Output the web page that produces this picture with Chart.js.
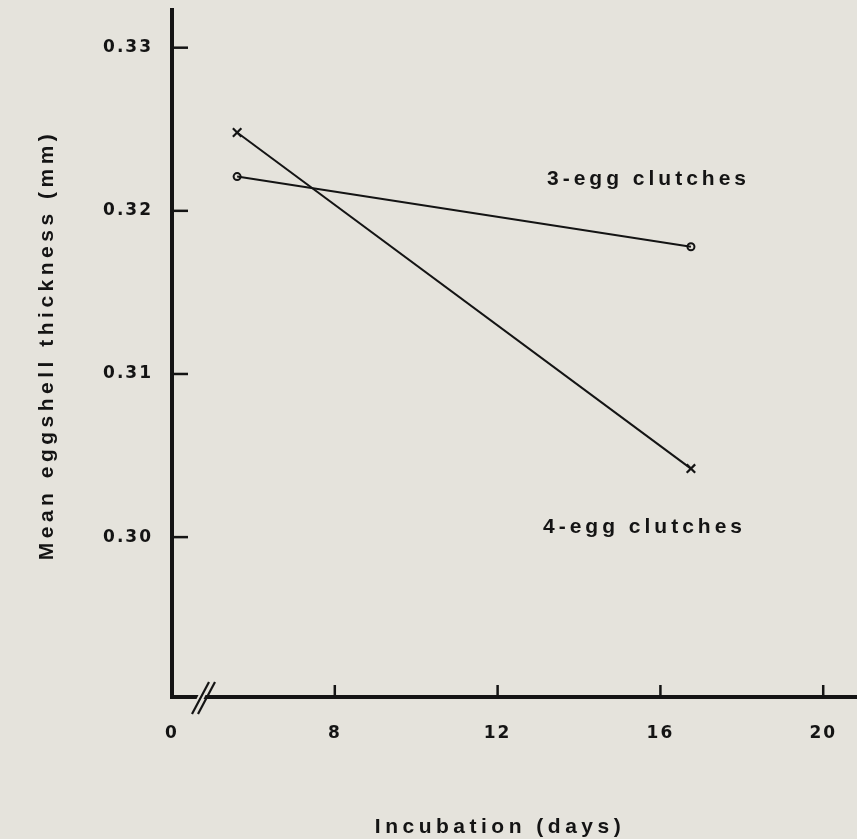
<!DOCTYPE html>
<html><head><meta charset="utf-8">
<script src="https://cdn.jsdelivr.net/npm/chart.js@4/dist/chart.umd.min.js"></script>
<style>html,body{margin:0;padding:0;background:#e5e3dc;overflow:hidden}#wrap{width:857px;height:839px}</style>
</head><body><div id="wrap"><canvas id="c" width="857" height="839"></canvas></div>
<script>
// ---- data ----
const seriesNames = ['3-egg clutches', '4-egg clutches'];
const days = [5.6, 16.75];
const threeEgg = [0.3221, 0.3178];
const fourEgg = [0.3248, 0.3042];
const xTickValues = [4, 8, 12, 16, 20];
const xTickLabels = ['0', '8', '12', '16', '20'];
const yTickValues = [0.30, 0.31, 0.32, 0.33];
const yTickLabels = ['0.30', '0.31', '0.32', '0.33'];
const xTitle = 'Incubation (days)';
const yTitle = 'Mean eggshell thickness (mm)';

const INK = '#141414';
const BG = '#e5e3dc';
const TITLE_FONT = 'bold 21px "Liberation Sans", Arial, sans-serif';

const decor = {
  id: 'decor',
  beforeDraw(chart) {
    const ctx = chart.ctx;
    ctx.save();
    ctx.fillStyle = BG;
    ctx.fillRect(0, 0, chart.width, chart.height);
    ctx.restore();
    ctx.letterSpacing = '2px';
  },
  afterDraw(chart) {
    const ctx = chart.ctx;
    const xs = chart.scales.x, ys = chart.scales.y;
    const a = chart.chartArea;
    ctx.save();
    ctx.letterSpacing = '0px';
    ctx.strokeStyle = INK;
    ctx.lineWidth = 2.5;
    ctx.lineCap = 'butt';
    // inward y ticks
    yTickValues.forEach(v => {
      const y = ys.getPixelForValue(v);
      ctx.beginPath(); ctx.moveTo(a.left, y); ctx.lineTo(a.left + 16, y); ctx.stroke();
    });
    // inward x ticks (none at the broken origin)
    xTickValues.slice(1).forEach(v => {
      const x = xs.getPixelForValue(v);
      ctx.beginPath(); ctx.moveTo(x, a.bottom); ctx.lineTo(x, a.bottom - 12); ctx.stroke();
    });
    // axis break mark
    const bx = a.left + 40, by = a.bottom;
    ctx.fillStyle = BG;
    ctx.beginPath();
    ctx.moveTo(bx - 16, by + 3); ctx.lineTo(bx - 9, by + 3); ctx.lineTo(bx - 6, by - 3); ctx.lineTo(bx - 13, by - 3);
    ctx.closePath(); ctx.fill();
    ctx.lineWidth = 2.2;
    [-12, -6].forEach(dx => {
      ctx.beginPath();
      ctx.moveTo(bx + dx - 8, by + 17);
      ctx.lineTo(bx + dx + 9, by - 15);
      ctx.stroke();
    });
    // axis titles
    ctx.fillStyle = INK;
    ctx.textAlign = 'center';
    ctx.textBaseline = 'alphabetic';
    ctx.font = TITLE_FONT;
    ctx.letterSpacing = '4.5px';
    ctx.fillText(xTitle, 500, 833);
    ctx.save();
    ctx.translate(47, 345);
    ctx.rotate(-Math.PI / 2);
    ctx.textBaseline = 'middle';
    ctx.fillText(yTitle, 0, 0);
    ctx.restore();
    // series labels
    ctx.textAlign = 'left';
    ctx.textBaseline = 'alphabetic';
    ctx.letterSpacing = '4px';
    ctx.fillText(seriesNames[0], 547, 185);
    ctx.fillText(seriesNames[1], 543, 533);
    ctx.restore();
  }
};

const ptsOf = arr => days.map((d, i) => ({ x: d, y: arr[i] }));

new Chart(document.getElementById('c'), {
  type: 'scatter',
  data: {
    datasets: [
      { label: seriesNames[0], data: ptsOf(threeEgg), showLine: true,
        borderColor: INK, borderWidth: 2, pointStyle: 'circle', pointRadius: 3.5,
        pointBorderWidth: 2, pointBorderColor: INK, pointBackgroundColor: 'rgba(0,0,0,0)' },
      { label: seriesNames[1], data: ptsOf(fourEgg), showLine: true,
        borderColor: INK, borderWidth: 2, pointStyle: 'crossRot', pointRadius: 6,
        pointBorderWidth: 2.2, pointBorderColor: INK, pointBackgroundColor: INK }
    ]
  },
  options: {
    responsive: false, animation: false, devicePixelRatio: 1,
    layout: { autoPadding: false, padding: { top: 10, right: 0, left: 0, bottom: 0 } },
    plugins: { legend: { display: false }, tooltip: { enabled: false } },
    scales: {
      x: {
        type: 'linear', min: 4, max: 20.83,
        afterBuildTicks: s => { s.ticks = xTickValues.map(v => ({ value: v })); },
        afterFit: s => { s.height = 142; s.paddingLeft = 0; s.paddingRight = 0; },
        grid: { display: false, drawTicks: false },
        border: { display: true, width: 4, color: INK },
        ticks: { padding: 19, color: INK, autoSkip: false, maxRotation: 0,
          font: { family: '"DejaVu Sans", sans-serif', weight: 'bold', size: 17, lineHeight: 2.1 },
          callback: v => { const i = xTickValues.indexOf(v); return i >= 0 ? xTickLabels[i] : ''; } }
      },
      y: {
        type: 'linear', min: 0.2902, max: 0.33231,
        afterBuildTicks: s => { s.ticks = yTickValues.map(v => ({ value: v })); },
        afterFit: s => { s.width = 172; s.paddingTop = 0; s.paddingBottom = 0; },
        grid: { display: false, drawTicks: false },
        border: { display: true, width: 4, color: INK },
        ticks: { padding: 19, color: INK, autoSkip: false,
          font: { family: '"DejaVu Sans", sans-serif', weight: 'bold', size: 17 },
          callback: v => { const i = yTickValues.indexOf(v); return i >= 0 ? yTickLabels[i] : ''; } }
      }
    }
  },
  plugins: [decor]
});
</script></body></html>
